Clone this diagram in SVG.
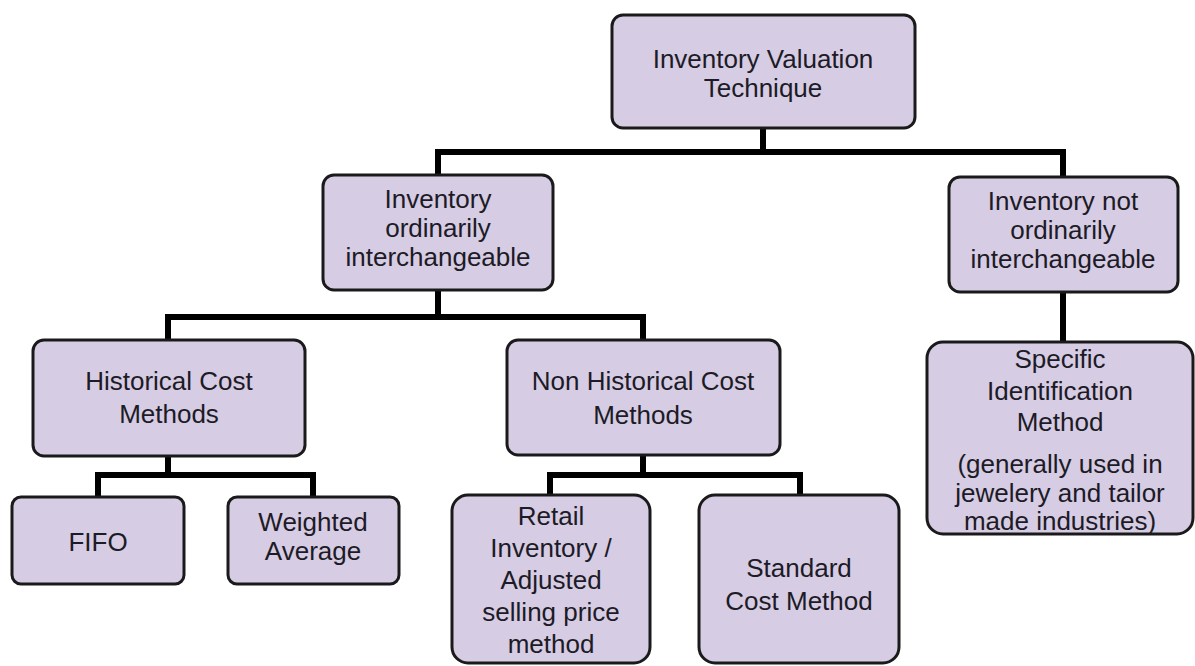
<svg xmlns="http://www.w3.org/2000/svg" width="1195" height="666" viewBox="0 0 1195 666">
<style>
.box{fill:#d6cce3;stroke:#1a1a1a;stroke-width:3}
.lbl{font-family:"Liberation Sans",Arial,sans-serif;font-size:26px;fill:#1c1b26;text-anchor:middle}
.con{fill:none;stroke:#000;stroke-width:6;stroke-linejoin:miter;stroke-linecap:butt}
</style>
<rect width="1195" height="666" fill="#ffffff"/>
<g id="connectors">
<path class="con" d="M763 128 V152"/>
<path class="con" d="M435 152 H1066"/>
<path class="con" d="M438 152 V175"/>
<path class="con" d="M1063 152 V177"/>
<path class="con" d="M438 290 V317"/>
<path class="con" d="M165 317 H646"/>
<path class="con" d="M168 317 V340"/>
<path class="con" d="M643 317 V340"/>
<path class="con" d="M1063 292 V342"/>
<path class="con" d="M168 456 V475"/>
<path class="con" d="M95 475 H316"/>
<path class="con" d="M98 475 V497"/>
<path class="con" d="M313 475 V497"/>
<path class="con" d="M643 455 V475"/>
<path class="con" d="M547 475 H803"/>
<path class="con" d="M550 475 V495"/>
<path class="con" d="M800 475 V495"/>
</g>
<g id="n-root">
<rect class="box" x="612" y="15" width="303" height="113" rx="11"/>
<text class="lbl" x="763" y="68">Inventory Valuation</text>
<text class="lbl" x="763" y="97">Technique</text>
</g>
<g id="n-ordinary">
<rect class="box" x="323" y="175" width="230" height="115" rx="11"/>
<text class="lbl" x="438" y="208">Inventory</text>
<text class="lbl" x="438" y="237">ordinarily</text>
<text class="lbl" x="438" y="266">interchangeable</text>
</g>
<g id="n-notordinary">
<rect class="box" x="949" y="177" width="229" height="115" rx="11"/>
<text class="lbl" x="1063" y="210">Inventory not</text>
<text class="lbl" x="1063" y="239">ordinarily</text>
<text class="lbl" x="1063" y="268">interchangeable</text>
</g>
<g id="n-historical">
<rect class="box" x="33" y="340" width="272" height="116" rx="11"/>
<text class="lbl" x="169" y="390">Historical Cost</text>
<text class="lbl" x="169" y="423">Methods</text>
</g>
<g id="n-nonhistorical">
<rect class="box" x="507" y="340" width="273" height="115" rx="11"/>
<text class="lbl" x="643" y="390">Non Historical Cost</text>
<text class="lbl" x="643" y="424">Methods</text>
</g>
<g id="n-specific">
<rect class="box" x="927" y="342" width="266" height="192" rx="16"/>
<text class="lbl" x="1060" y="368">Specific</text>
<text class="lbl" x="1060" y="400">Identification</text>
<text class="lbl" x="1060" y="431">Method</text>
<text class="lbl" x="1060" y="473">(generally used in</text>
<text class="lbl" x="1060" y="502">jewelery and tailor</text>
<text class="lbl" x="1060" y="530">made industries)</text>
</g>
<g id="n-fifo">
<rect class="box" x="12" y="497" width="172" height="87" rx="9"/>
<text class="lbl" x="98" y="551">FIFO</text>
</g>
<g id="n-weighted">
<rect class="box" x="228" y="497" width="171" height="87" rx="9"/>
<text class="lbl" x="313" y="531">Weighted</text>
<text class="lbl" x="313" y="560">Average</text>
</g>
<g id="n-retail">
<rect class="box" x="452" y="495" width="198" height="168" rx="16"/>
<text class="lbl" x="551" y="525">Retail</text>
<text class="lbl" x="551" y="557">Inventory /</text>
<text class="lbl" x="551" y="589">Adjusted</text>
<text class="lbl" x="551" y="621">selling price</text>
<text class="lbl" x="551" y="653">method</text>
</g>
<g id="n-standard">
<rect class="box" x="699" y="495" width="200" height="168" rx="16"/>
<text class="lbl" x="799" y="577">Standard</text>
<text class="lbl" x="799" y="610">Cost Method</text>
</g>
</svg>
